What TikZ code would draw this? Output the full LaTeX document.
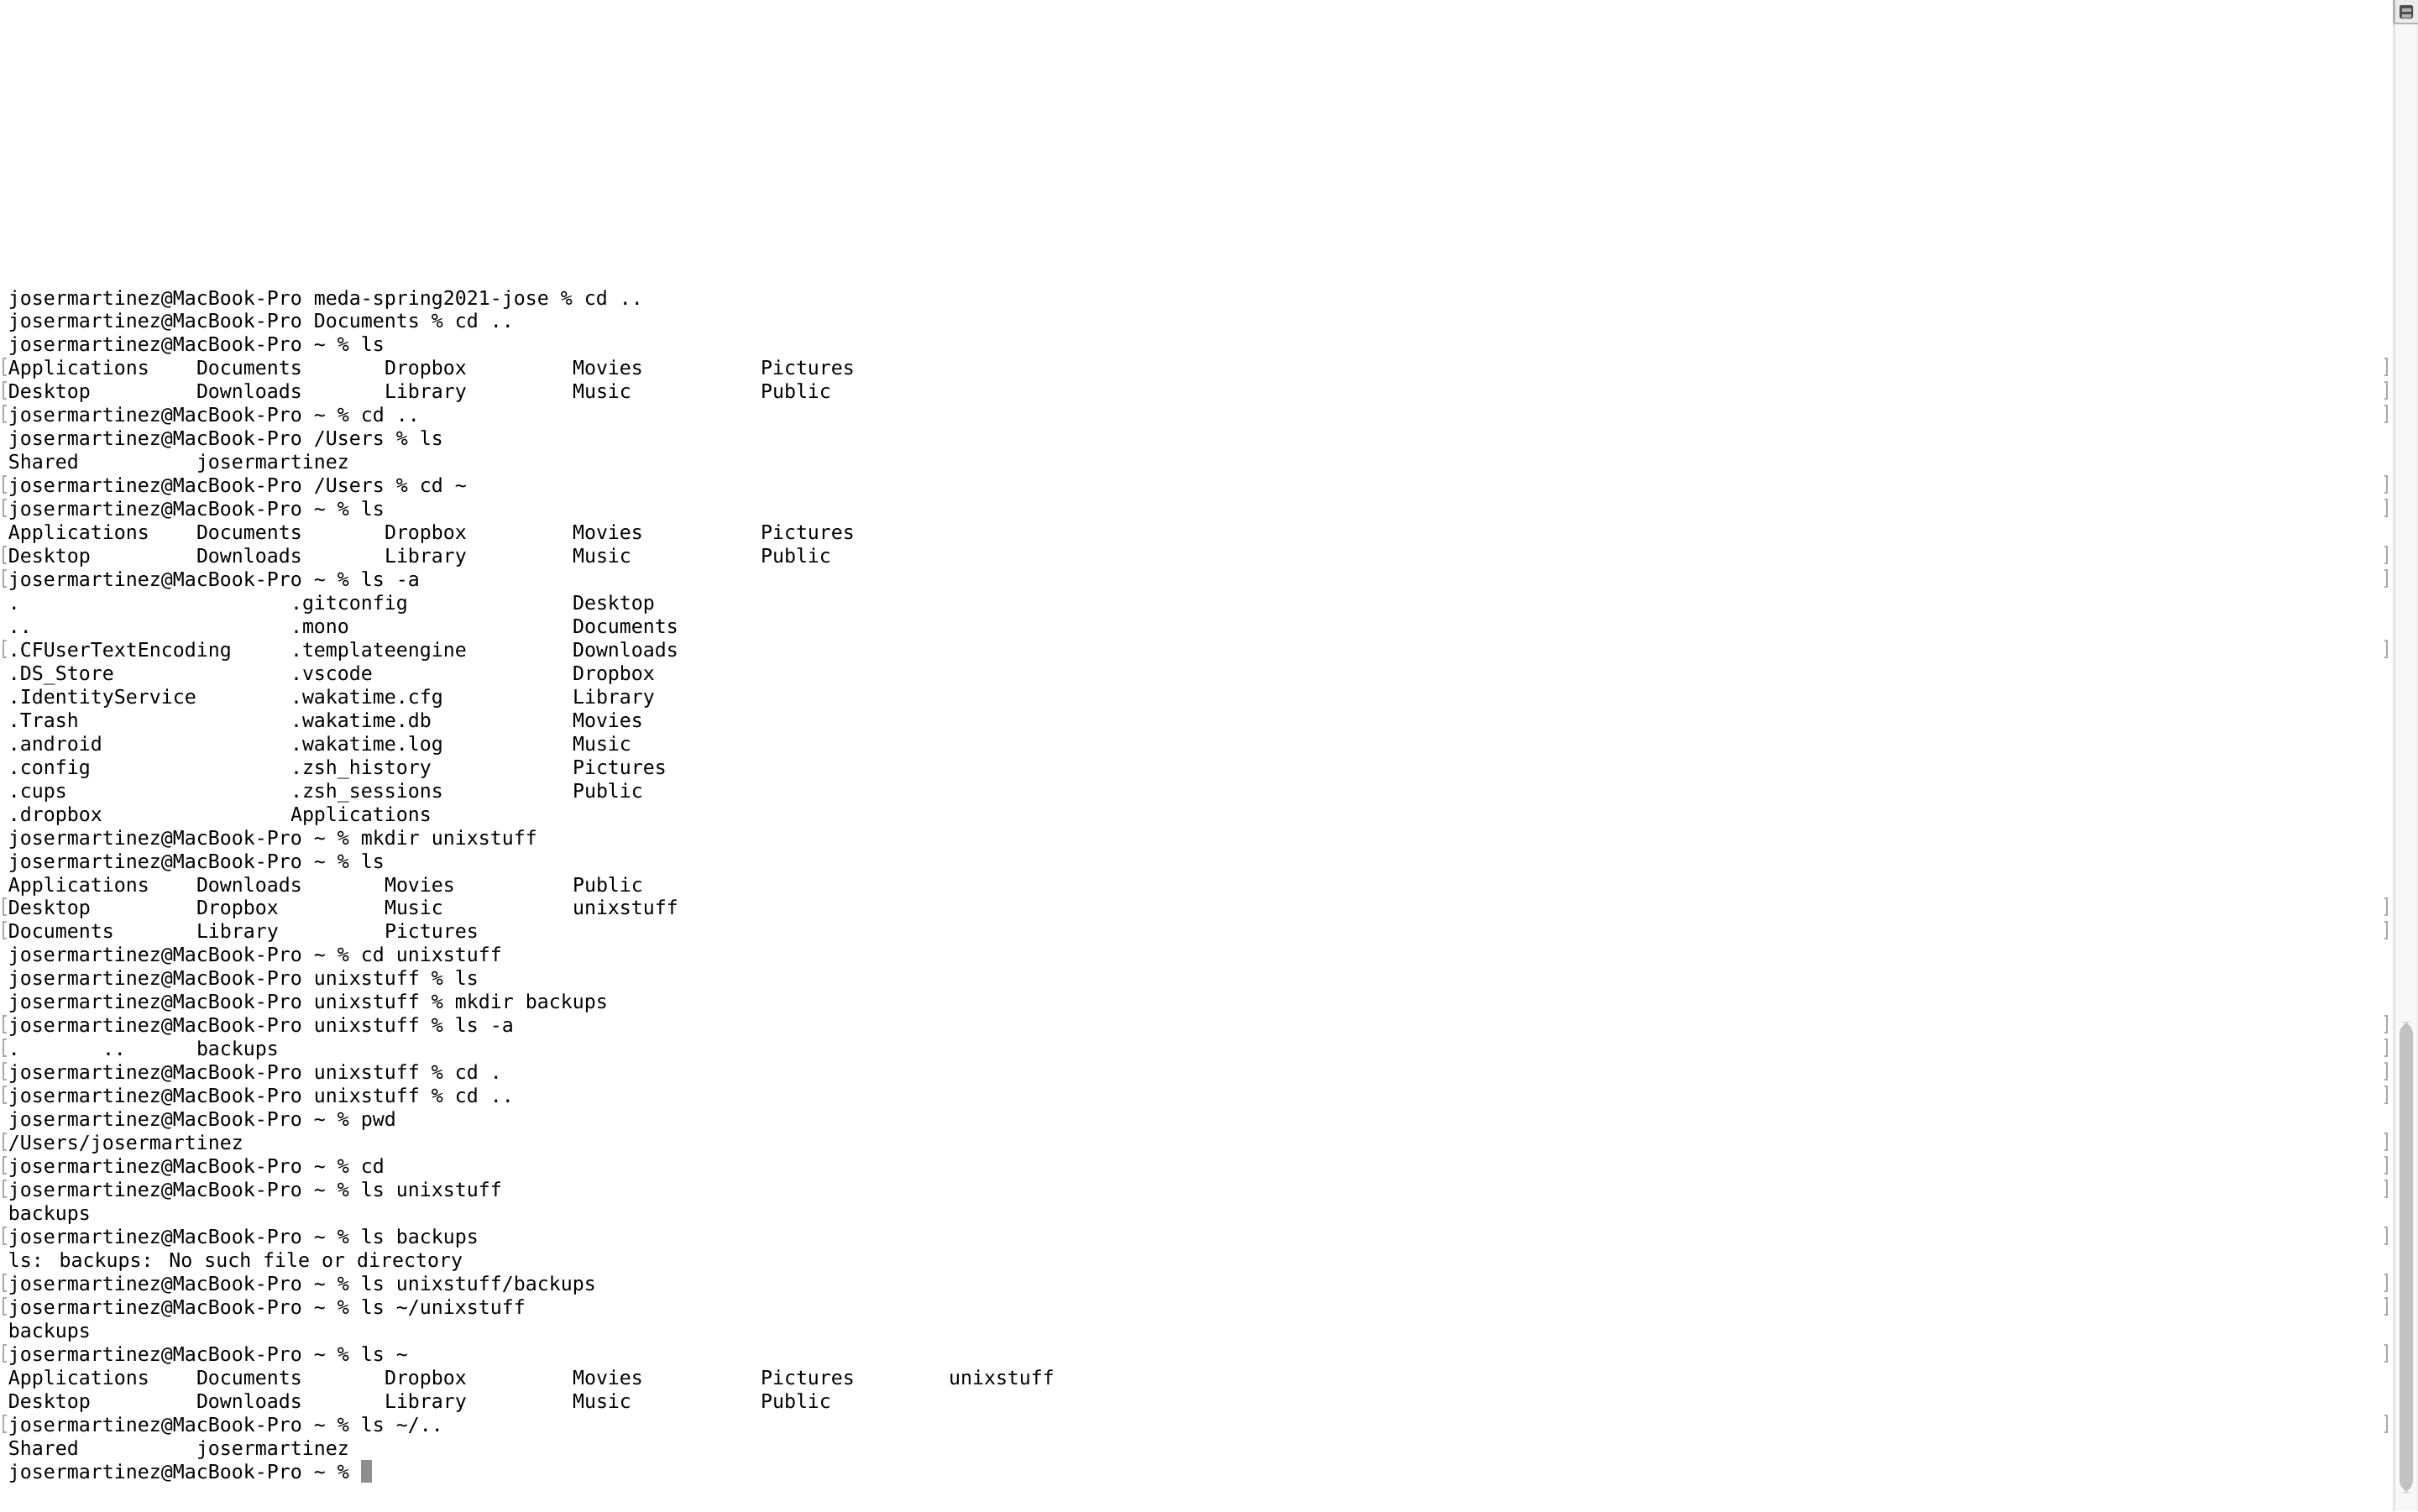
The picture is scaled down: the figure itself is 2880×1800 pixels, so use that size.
\documentclass[tikz,border=0pt]{standalone}
\usepackage{fontspec}
\newfontfamily\termfont{DejaVu Sans Mono}
\definecolor{markgray}{HTML}{A9A9A9}
\definecolor{cursorgray}{HTML}{8E8E8E}
\definecolor{trackfill}{HTML}{F8F8F8}
\definecolor{trackline}{HTML}{E4E4E4}
\definecolor{thumbgray}{HTML}{C2C2C2}
\definecolor{iconbg}{HTML}{EBEBEB}
\definecolor{iconedge}{HTML}{B3B3B3}
\definecolor{icondark}{HTML}{505050}
\definecolor{iconbar}{HTML}{B4B4B4}
\newcommand\pr{josermartinez@MacBook-Pro}
\newcommand\tld{\textasciitilde}
\newcommand\tx[4]{\node[txt] (#1) at ({10+14*(#3)},{363+27.96*((#2)-1)}) {#4};}
\tikzset{
  txt/.style={anchor=base west, inner sep=0pt, outer sep=0pt, text=black,
    font=\termfont\fontsize{11.625pt}{14pt}\selectfont},
  bracketmark/.style={draw=markgray, line width=1pt},
}
\begin{document}
\begin{tikzpicture}[x=0.5pt,y=-0.5pt]
\useasboundingbox (0,0) rectangle (2880,1800);
\fill[white] (0,0) rectangle (2880,1800);
% scrollbar track
\fill[trackfill] (2850,0) rectangle (2880,1800);
\fill[trackline] (2850,0) rectangle (2852.5,1800);
\fill[trackline!60] (2877.5,29) rectangle (2880,1800);
\fill[thumbgray, rounded corners=7.5pt] (2858,1217) rectangle (2874,1778);
% icon top right
\fill[iconbg] (2850,0) rectangle (2880,29);
\fill[iconedge] (2850,0) rectangle (2852.5,29);
\fill[iconedge] (2850,26.5) rectangle (2880,29);
\fill[icondark, rounded corners=0.8pt] (2858,6) rectangle (2874,22);
\fill[iconbar] (2860.5,10) rectangle (2871.5,14);
\fill[iconbar] (2860.5,16.5) rectangle (2871.5,20.5);
% marks
\foreach \r in {4,5,6,9,10,12,13,16,27,28,32,33,34,35,37,38,39,41,43,44,46,49}{
  \pgfmathsetmacro\b{363+27.96*(\r-1)}
  \draw[bracketmark] (7.5,\b-19.5) -- (4,\b-19.5) -- (4,\b+0.5) -- (7.5,\b+0.5);
  \draw[bracketmark] (2839.5,\b-19.5) -- (2843,\b-19.5) -- (2843,\b+0.5) -- (2839.5,\b+0.5);
}
% text
\tx{r1}{1}{0}{\pr{} meda-spring2021-jose \% cd ..}
\tx{r2}{2}{0}{\pr{} Documents \% cd ..}
\tx{r3}{3}{0}{\pr{} \tld{} \% ls}
\tx{r4a}{4}{0}{Applications}\tx{r4b}{4}{16}{Documents}\tx{r4c}{4}{32}{Dropbox}\tx{r4d}{4}{48}{Movies}\tx{r4e}{4}{64}{Pictures}
\tx{r5a}{5}{0}{Desktop}\tx{r5b}{5}{16}{Downloads}\tx{r5c}{5}{32}{Library}\tx{r5d}{5}{48}{Music}\tx{r5e}{5}{64}{Public}
\tx{r6}{6}{0}{\pr{} \tld{} \% cd ..}
\tx{r7}{7}{0}{\pr{} /Users \% ls}
\tx{r8a}{8}{0}{Shared}\tx{r8b}{8}{16}{josermartinez}
\tx{r9}{9}{0}{\pr{} /Users \% cd \tld}
\tx{r10}{10}{0}{\pr{} \tld{} \% ls}
\tx{r11a}{11}{0}{Applications}\tx{r11b}{11}{16}{Documents}\tx{r11c}{11}{32}{Dropbox}\tx{r11d}{11}{48}{Movies}\tx{r11e}{11}{64}{Pictures}
\tx{r12a}{12}{0}{Desktop}\tx{r12b}{12}{16}{Downloads}\tx{r12c}{12}{32}{Library}\tx{r12d}{12}{48}{Music}\tx{r12e}{12}{64}{Public}
\tx{r13}{13}{0}{\pr{} \tld{} \% ls -a}
\tx{r14a}{14}{0}{.}\tx{r14b}{14}{24}{.gitconfig}\tx{r14c}{14}{48}{Desktop}
\tx{r15a}{15}{0}{..}\tx{r15b}{15}{24}{.mono}\tx{r15c}{15}{48}{Documents}
\tx{r16a}{16}{0}{.CFUserTextEncoding}\tx{r16b}{16}{24}{.templateengine}\tx{r16c}{16}{48}{Downloads}
\tx{r17a}{17}{0}{.DS\_Store}\tx{r17b}{17}{24}{.vscode}\tx{r17c}{17}{48}{Dropbox}
\tx{r18a}{18}{0}{.IdentityService}\tx{r18b}{18}{24}{.wakatime.cfg}\tx{r18c}{18}{48}{Library}
\tx{r19a}{19}{0}{.Trash}\tx{r19b}{19}{24}{.wakatime.db}\tx{r19c}{19}{48}{Movies}
\tx{r20a}{20}{0}{.android}\tx{r20b}{20}{24}{.wakatime.log}\tx{r20c}{20}{48}{Music}
\tx{r21a}{21}{0}{.config}\tx{r21b}{21}{24}{.zsh\_history}\tx{r21c}{21}{48}{Pictures}
\tx{r22a}{22}{0}{.cups}\tx{r22b}{22}{24}{.zsh\_sessions}\tx{r22c}{22}{48}{Public}
\tx{r23a}{23}{0}{.dropbox}\tx{r23b}{23}{24}{Applications}
\tx{r24}{24}{0}{\pr{} \tld{} \% mkdir unixstuff}
\tx{r25}{25}{0}{\pr{} \tld{} \% ls}
\tx{r26a}{26}{0}{Applications}\tx{r26b}{26}{16}{Downloads}\tx{r26c}{26}{32}{Movies}\tx{r26d}{26}{48}{Public}
\tx{r27a}{27}{0}{Desktop}\tx{r27b}{27}{16}{Dropbox}\tx{r27c}{27}{32}{Music}\tx{r27d}{27}{48}{unixstuff}
\tx{r28a}{28}{0}{Documents}\tx{r28b}{28}{16}{Library}\tx{r28c}{28}{32}{Pictures}
\tx{r29}{29}{0}{\pr{} \tld{} \% cd unixstuff}
\tx{r30}{30}{0}{\pr{} unixstuff \% ls}
\tx{r31}{31}{0}{\pr{} unixstuff \% mkdir backups}
\tx{r32}{32}{0}{\pr{} unixstuff \% ls -a}
\tx{r33a}{33}{0}{.}\tx{r33b}{33}{8}{..}\tx{r33c}{33}{16}{backups}
\tx{r34}{34}{0}{\pr{} unixstuff \% cd .}
\tx{r35}{35}{0}{\pr{} unixstuff \% cd ..}
\tx{r36}{36}{0}{\pr{} \tld{} \% pwd}
\tx{r37}{37}{0}{/Users/josermartinez}
\tx{r38}{38}{0}{\pr{} \tld{} \% cd}
\tx{r39}{39}{0}{\pr{} \tld{} \% ls unixstuff}
\tx{r40}{40}{0}{backups}
\tx{r41}{41}{0}{\pr{} \tld{} \% ls backups}
\tx{r42}{42}{0}{ls: backups: No such file or directory}
\tx{r43}{43}{0}{\pr{} \tld{} \% ls unixstuff/backups}
\tx{r44}{44}{0}{\pr{} \tld{} \% ls \tld/unixstuff}
\tx{r45}{45}{0}{backups}
\tx{r46}{46}{0}{\pr{} \tld{} \% ls \tld}
\tx{r47a}{47}{0}{Applications}\tx{r47b}{47}{16}{Documents}\tx{r47c}{47}{32}{Dropbox}\tx{r47d}{47}{48}{Movies}\tx{r47e}{47}{64}{Pictures}\tx{r47f}{47}{80}{unixstuff}
\tx{r48a}{48}{0}{Desktop}\tx{r48b}{48}{16}{Downloads}\tx{r48c}{48}{32}{Library}\tx{r48d}{48}{48}{Music}\tx{r48e}{48}{64}{Public}
\tx{r49}{49}{0}{\pr{} \tld{} \% ls \tld/..}
\tx{r50a}{50}{0}{Shared}\tx{r50b}{50}{16}{josermartinez}
\tx{r51}{51}{0}{\pr{} \tld{} \%}
% cursor
\fill[cursorgray] (430,1739) rectangle (443,1766);
\end{tikzpicture}
\end{document}
